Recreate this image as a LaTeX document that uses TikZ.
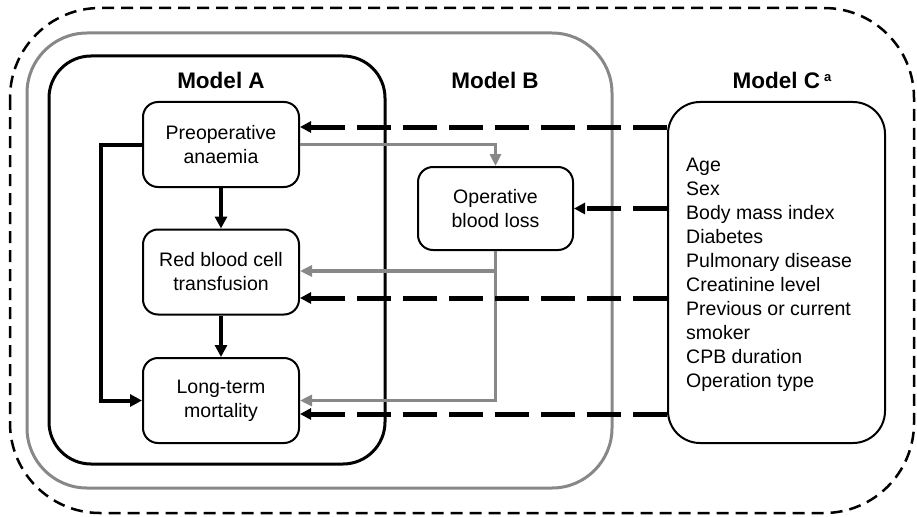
\documentclass[tikz,border=0pt]{standalone}
\usepackage{fontspec}
\setmainfont{Liberation Sans}
\usetikzlibrary{arrows.meta}
\definecolor{midgray}{RGB}{136,136,136}

\begin{document}
\begin{tikzpicture}[x=1pt,y=-1pt,
  font=\fontsize{19.5}{24}\selectfont,
  stepbox/.style={draw, line width=2pt, rounded corners=15pt,
    minimum width=156pt, minimum height=85pt, align=center, inner sep=0pt},
  heading/.style={font=\fontsize{22.5}{26}\selectfont\bfseries},
  blackarrow/.style={draw=black, line width=4pt,
    -{Triangle[length=12pt,width=12pt]}},
  grayarrow/.style={draw=midgray, line width=3.5pt,
    -{Triangle[length=12pt,width=11pt]}},
  covarrow/.style={draw=black, line width=5pt, dash pattern=on 34pt off 12pt,
    -{Triangle[length=11pt,width=11pt]}},
]
\useasboundingbox (0,0) rectangle (917,516);

% nested model frames
\draw[line width=2.5pt, dash pattern=on 12pt off 7pt, rounded corners=90pt]
  (10,8) rectangle (914,513);
\node[draw=midgray, line width=3pt, rounded corners=60pt,
  minimum width=585pt, minimum height=455pt] (modelB) at (319.5,260.5) {};
\node[draw=black, line width=3pt, rounded corners=42pt,
  minimum width=336pt, minimum height=408pt] (modelA) at (217,260) {};

% headings
\node[heading] (ta) at (221,80) {Model A};
\node[heading] (tb) at (495,80) {Model B};
\node[heading, anchor=west] (tc) at (729,80)
  {Model C\hspace{4pt}\raisebox{7pt}{\fontsize{13}{13}\selectfont a}};

% variables
\node[stepbox] (pre) at (221,144.5) {Preoperative\\anaemia};
\node[stepbox] (rbc) at (221,272) {Red blood cell\\transfusion};
\node[stepbox] (mort) at (221,400.5) {Long-term\\mortality};
\node[stepbox, minimum width=155pt, minimum height=83pt] (obl) at (495.5,208.5)
  {Operative\\blood loss};

% covariates
\node[draw, line width=2pt, rounded corners=32pt,
  minimum width=217pt, minimum height=341pt] (mc) at (776.5,272.5) {};
\node[anchor=north west, align=left, inner sep=0pt] (covs) at (686,158)
  {Age\\Sex\\Body mass index\\Diabetes\\Pulmonary disease\\Creatinine level\\
   Previous or current\\smoker\\CPB duration\\Operation type};

% Model A paths
\draw[blackarrow] (pre) -- (rbc);
\draw[blackarrow] (rbc) -- (mort);
\draw[blackarrow] (pre.west) -- ++(-41,0) |- (mort.west);

% Model B paths
\draw[grayarrow] (pre.east) -| (obl.north);
\draw[grayarrow] (obl.south) |- ([yshift=1pt]rbc.east);
\draw[grayarrow] (obl.south) |- (mort.east);

% Model C paths
\coordinate (d1) at ([yshift=17.5pt]pre.east);
\coordinate (d3) at ([yshift=-26pt]rbc.east);
\coordinate (d4) at ([yshift=-13.5pt]mort.east);
\draw[covarrow] (mc.west |- d1) -- (d1);
\draw[covarrow] (mc.west |- obl.east) -- (obl.east);
\draw[covarrow] (mc.west |- d3) -- (d3);
\draw[covarrow] (mc.west |- d4) -- (d4);
\end{tikzpicture}
\end{document}
